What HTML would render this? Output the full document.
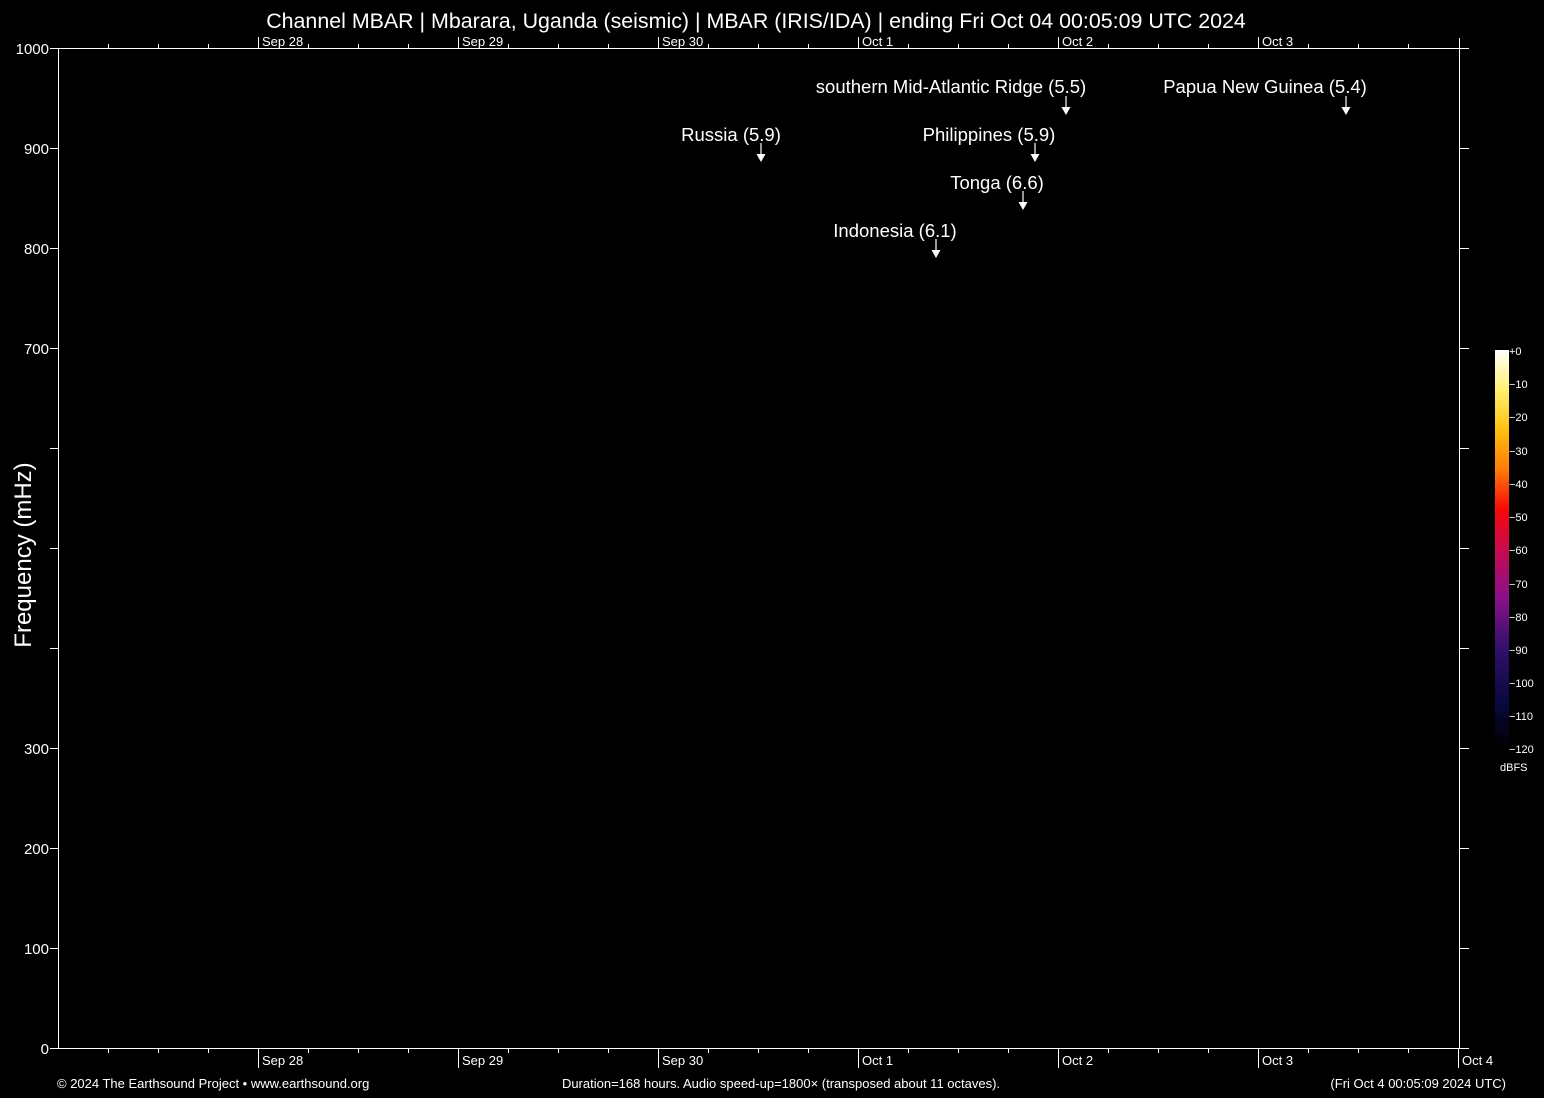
<!DOCTYPE html>
<html><head><meta charset="utf-8"><style>
html,body{margin:0;padding:0;background:#000;}
svg{display:block;font-family:"Liberation Sans",Arial,sans-serif;}
</style></head><body>
<svg width="1544" height="1098" viewBox="0 0 1544 1098" xmlns="http://www.w3.org/2000/svg" xml:space="preserve">
<defs>
<linearGradient id="cb" x1="0" y1="1" x2="0" y2="0">
<stop offset="0" stop-color="#000000"/>
<stop offset="0.12" stop-color="#0a0840"/>
<stop offset="0.25" stop-color="#30106a"/>
<stop offset="0.38" stop-color="#8a108a"/>
<stop offset="0.5" stop-color="#c80a50"/>
<stop offset="0.6" stop-color="#f80808"/>
<stop offset="0.7" stop-color="#ff7a08"/>
<stop offset="0.8" stop-color="#ffc010"/>
<stop offset="0.9" stop-color="#fff070"/>
<stop offset="1" stop-color="#ffffff"/>
</linearGradient>
</defs>
<rect width="1544" height="1098" fill="#000"/>
<text x="756" y="28" fill="#fff" font-size="21.4" text-anchor="middle">Channel MBAR | Mbarara, Uganda (seismic) | MBAR (IRIS/IDA) | ending Fri Oct 04 00:05:09 UTC 2024</text>
<g stroke="#fff" stroke-width="1" fill="none" shape-rendering="crispEdges">
<line x1="58.5" y1="48.5" x2="1469" y2="48.5"/>
<line x1="58.5" y1="1048.5" x2="1469" y2="1048.5"/>
<line x1="58.5" y1="48" x2="58.5" y2="1049"/>
<line x1="1459.5" y1="38" x2="1459.5" y2="1049"/>
<path d="M50 48.5H58M50 148.5H58M50 248.5H58M50 348.5H58M50 448.5H58M50 548.5H58M50 648.5H58M50 748.5H58M50 848.5H58M50 948.5H58M50 1048.5H58"/>
<path d="M1459 148.5H1469M1459 248.5H1469M1459 348.5H1469M1459 448.5H1469M1459 548.5H1469M1459 648.5H1469M1459 748.5H1469M1459 848.5H1469M1459 948.5H1469"/>
<path d="M108.5 44V48M158.5 44V48M208.5 44V48M258.5 37V48M308.5 44V48M358.5 44V48M408.5 44V48M458.5 37V48M508.5 44V48M558.5 44V48M608.5 44V48M658.5 37V48M708.5 44V48M758.5 44V48M808.5 44V48M858.5 37V48M908.5 44V48M958.5 44V48M1008.5 44V48M1058.5 37V48M1108.5 44V48M1158.5 44V48M1208.5 44V48M1258.5 37V48M1308.5 44V48M1358.5 44V48M1408.5 44V48"/>
<path d="M108.5 1048V1053M158.5 1048V1053M208.5 1048V1053M258.5 1048V1068M308.5 1048V1053M358.5 1048V1053M408.5 1048V1053M458.5 1048V1068M508.5 1048V1053M558.5 1048V1053M608.5 1048V1053M658.5 1048V1068M708.5 1048V1053M758.5 1048V1053M808.5 1048V1053M858.5 1048V1068M908.5 1048V1053M958.5 1048V1053M1008.5 1048V1053M1058.5 1048V1068M1108.5 1048V1053M1158.5 1048V1053M1208.5 1048V1053M1258.5 1048V1068M1308.5 1048V1053M1358.5 1048V1053M1408.5 1048V1053M1458.5 1048V1068"/>
</g>
<g fill="#fff" font-size="15" text-anchor="end">
<text x="49" y="54">1000</text><text x="49" y="154">900</text><text x="49" y="254">800</text><text x="49" y="354">700</text>
<text x="49" y="754">300</text><text x="49" y="854">200</text><text x="49" y="954">100</text><text x="49" y="1054">0</text>
</g>
<text transform="translate(31,555) rotate(-90)" fill="#fff" font-size="24" text-anchor="middle">Frequency (mHz)</text>
<g fill="#fff" font-size="13">
<text x="262" y="46">Sep 28</text><text x="462" y="46">Sep 29</text><text x="662" y="46">Sep 30</text><text x="862" y="46">Oct  1</text><text x="1062" y="46">Oct  2</text><text x="1262" y="46">Oct  3</text>
<text x="262" y="1065">Sep 28</text><text x="462" y="1065">Sep 29</text><text x="662" y="1065">Sep 30</text><text x="862" y="1065">Oct  1</text><text x="1062" y="1065">Oct  2</text><text x="1262" y="1065">Oct  3</text><text x="1462" y="1065">Oct  4</text>
<text x="57" y="1088">© 2024 The Earthsound Project • www.earthsound.org</text>
<text x="781" y="1088" text-anchor="middle">Duration=168 hours. Audio speed-up=1800× (transposed about 11 octaves).</text>
<text x="1506" y="1088" text-anchor="end">(Fri Oct  4 00:05:09 2024 UTC)</text>
</g>
<g fill="#fff" font-size="18.5" text-anchor="middle">
<text x="951" y="93">southern Mid-Atlantic Ridge (5.5)</text>
<text x="1265" y="93">Papua New Guinea (5.4)</text>
<text x="731" y="141">Russia (5.9)</text>
<text x="989" y="141">Philippines (5.9)</text>
<text x="997" y="189">Tonga (6.6)</text>
<text x="895" y="237">Indonesia (6.1)</text>
</g>
<g stroke="#fff" stroke-width="1.2">
<line x1="1066" y1="96" x2="1066" y2="108"/><line x1="1346" y1="96" x2="1346" y2="108"/>
<line x1="761" y1="143" x2="761" y2="155"/><line x1="1035" y1="143" x2="1035" y2="155"/>
<line x1="1023" y1="191" x2="1023" y2="203"/><line x1="936" y1="239" x2="936" y2="251"/>
</g>
<g fill="#fff">
<path d="M1061.5 107H1070.5L1066 115Z"/><path d="M1341.5 107H1350.5L1346 115Z"/>
<path d="M756.5 154H765.5L761 162Z"/><path d="M1030.5 154H1039.5L1035 162Z"/>
<path d="M1018.5 202H1027.5L1023 210Z"/><path d="M931.5 250H940.5L936 258Z"/>
</g>
<rect x="1495" y="350" width="14" height="399" fill="url(#cb)"/>
<g fill="#fff" font-size="11">
<text x="1509" y="355">+0</text><text x="1509" y="388">−10</text><text x="1509" y="421">−20</text><text x="1509" y="455">−30</text><text x="1509" y="488">−40</text><text x="1509" y="521">−50</text><text x="1509" y="554">−60</text><text x="1509" y="588">−70</text><text x="1509" y="621">−80</text><text x="1509" y="654">−90</text><text x="1509" y="687">−100</text><text x="1509" y="720">−110</text><text x="1509" y="753">−120</text>
<text x="1500" y="771">dBFS</text>
</g>
</svg>
</body></html>
